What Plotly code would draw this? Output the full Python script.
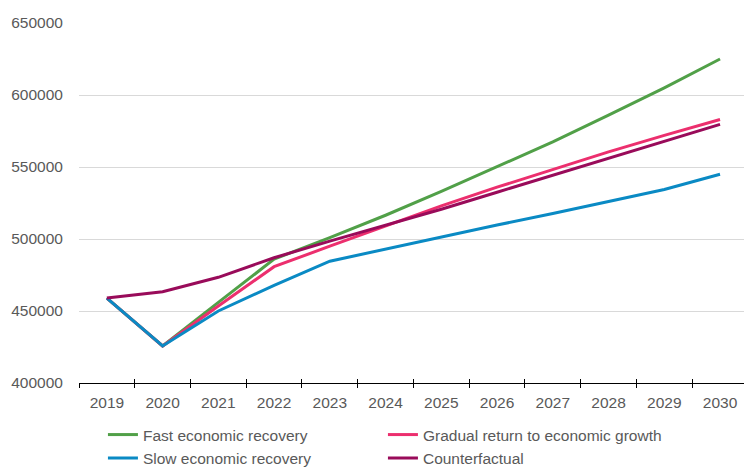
import plotly.graph_objects as go

years = ["2019", "2020", "2021", "2022", "2023", "2024",
         "2025", "2026", "2027", "2028", "2029", "2030"]

fast_recovery = [459000, 425700, 456000, 486000, 501000, 516500,
                 533000, 550000, 567500, 586000, 605000, 625000]
gradual_return = [459000, 425700, 453500, 480800, 495000, 509000,
                  523000, 536000, 548500, 560500, 572000, 583000]
slow_recovery = [459000, 425700, 450000, 467800, 484600, 493000,
                 501500, 509700, 517700, 525900, 534400, 545000]
counterfactual = [459000, 463400, 473400, 487000, 498500, 509500,
                  520700, 532500, 544300, 556100, 567900, 579600]

# (name, values, colour, legend row)
series = [
    ("Fast economic recovery", fast_recovery, "#51A048", "legend"),
    ("Gradual return to economic growth", gradual_return, "#EC2F6E", "legend"),
    ("Slow economic recovery", slow_recovery, "#0A8AC4", "legend2"),
    ("Counterfactual", counterfactual, "#990B5A", "legend2"),
]

fig = go.Figure()
for name, values, color, legend_id in series:
    fig.add_trace(go.Scatter(
        x=years, y=values, name=name, mode="lines",
        line=dict(color=color, width=3), legend=legend_id,
    ))

# invisible trace on a second x axis that carries the upward half of the tick marks
fig.add_trace(go.Scatter(x=years, y=[None] * len(years), xaxis="x2",
                         showlegend=False, hoverinfo="skip"))

font = dict(family="Liberation Sans, Arial, sans-serif", size=15.5, color="#595959")

legend_common = dict(
    orientation="h", x=0.036, xanchor="left", yanchor="top",
    entrywidth=235, entrywidthmode="pixels",
    font=font, itemwidth=30, bgcolor="rgba(0,0,0,0)",
)

xrange = [-0.5, 11.43]
fig.update_layout(
    width=744, height=468,
    margin=dict(l=79, r=0, t=23, b=85, autoexpand=False),
    plot_bgcolor="white", paper_bgcolor="white",
    font=font,
    showlegend=True,
    legend=dict(legend_common, y=-0.0972),
    legend2=dict(legend_common, y=-0.1625),
    xaxis=dict(
        type="category", range=xrange,
        showline=True, linecolor="black", linewidth=1,
        ticks="outside", ticklen=4, tickwidth=1, tickcolor="black",
        tickson="boundaries", showgrid=False,
        tickfont=font, ticklabelstandoff=5,
    ),
    xaxis2=dict(
        type="category", range=xrange, overlaying="x", side="bottom",
        matches="x", showline=False,
        ticks="inside", ticklen=4, tickwidth=1, tickcolor="black",
        tickson="boundaries", showgrid=False, showticklabels=False,
    ),
    yaxis=dict(
        range=[400000, 650000], dtick=50000, tickformat="d",
        showgrid=True, gridcolor="#D9D9D9", gridwidth=1,
        zeroline=False, showline=False,
        ticks="outside", ticklen=12, tickcolor="rgba(0,0,0,0)",
        tickfont=font,
    ),
)

fig.write_html("out.html")
